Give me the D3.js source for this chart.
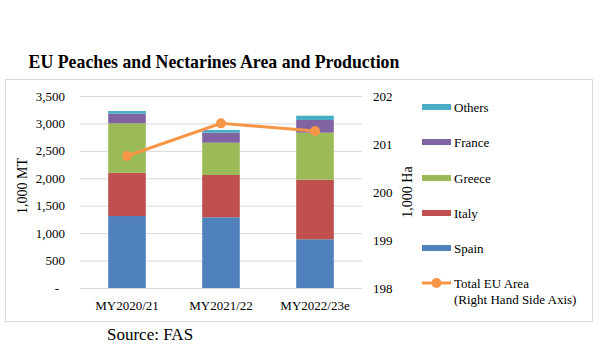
<!DOCTYPE html>
<html><head><meta charset="utf-8">
<script src="https://cdn.jsdelivr.net/npm/d3@7"></script>
<style>body{margin:0;background:#fff}svg{display:block}</style>
</head><body>
<svg id="c" width="600" height="357"></svg>
<script>
const years = ["MY2020/21", "MY2021/22", "MY2022/23e"];
const seriesNames = ["Spain", "Italy", "Greece", "France", "Others"];
const spain = [1312, 1289, 888];
const italy = [790, 771, 1086];
const greece = [900, 589, 857];
const france = [175, 182, 232];
const others = [50, 49, 78];
const totalArea = [200.75, 201.43, 201.27];
const leftTicks = [0, 500, 1000, 1500, 2000, 2500, 3000, 3500];
const rightTicks = [198, 199, 200, 201, 202];
const colors = ["#4F81BD", "#C0504D", "#9BBB59", "#8064A2", "#4BACC6"];
const lineColor = "#F79646";

const svg = d3.select("#c");
const font = "'Liberation Serif','Times New Roman',serif";
const L = 80, R = 362, T = 96, B = 288;

svg.append("rect").attr("x", 5.5).attr("y", 79.5).attr("width", 587).attr("height", 242)
  .attr("fill", "none").attr("stroke", "#d9d9d9");

svg.append("text").attr("x", 214).attr("y", 68).attr("text-anchor", "middle")
  .attr("font-family", font).attr("font-weight", "bold").attr("font-size", 17.8)
  .text("EU Peaches and Nectarines Area and Production");

const x = d3.scaleBand().domain(years).range([L, R]).paddingInner(0.6).paddingOuter(0.3);
const y = d3.scaleLinear().domain([0, 3500]).range([B, T]);
const y2 = d3.scaleLinear().domain([198, 202]).range([B, T]);

// gridlines
svg.append("g").selectAll("line").data(leftTicks).join("line")
  .attr("x1", L).attr("x2", R).attr("y1", d => y(d) + 0.5).attr("y2", d => y(d) + 0.5)
  .attr("stroke", "#d9d9d9").attr("stroke-width", 1);

const fmt = d => d === 0 ? "-" : d3.format(",")(d);
svg.append("g").selectAll("text").data(leftTicks).join("text")
  .attr("x", d => d === 0 ? 59 : 65).attr("y", d => y(d) + 4.5).attr("text-anchor", "end")
  .attr("font-family", font).attr("font-size", 13).text(fmt);

svg.append("g").selectAll("text").data(rightTicks).join("text")
  .attr("x", 373).attr("y", d => y2(d) + 4.5).attr("text-anchor", "start")
  .attr("font-family", font).attr("font-size", 13).text(d => d);

svg.append("text").attr("transform", "translate(27,186) rotate(-90)").attr("text-anchor", "middle")
  .attr("font-family", font).attr("font-size", 14).text("1,000 MT");
svg.append("text").attr("transform", "translate(412,192) rotate(-90)").attr("text-anchor", "middle")
  .attr("font-family", font).attr("font-size", 14).text("1,000 Ha");

// stacked bars
const rows = years.map((yr, i) => ({year: yr, Spain: spain[i], Italy: italy[i], Greece: greece[i], France: france[i], Others: others[i]}));
const stack = d3.stack().keys(seriesNames)(rows);
svg.append("g").selectAll("g").data(stack).join("g").attr("fill", (d, i) => colors[i])
  .selectAll("rect").data(d => d).join("rect")
  .attr("x", d => x(d.data.year)).attr("width", x.bandwidth())
  .attr("y", d => y(d[1])).attr("height", d => y(d[0]) - y(d[1]));

// x labels
svg.append("g").selectAll("text").data(years).join("text")
  .attr("x", d => x(d) + x.bandwidth() / 2).attr("y", 310).attr("text-anchor", "middle")
  .attr("font-family", font).attr("font-size", 13).text(d => d);

// line
const line = d3.line().x((d, i) => x(years[i]) + x.bandwidth() / 2).y(d => y2(d));
svg.append("path").datum(totalArea).attr("d", line).attr("fill", "none")
  .attr("stroke", lineColor).attr("stroke-width", 3);
svg.append("g").selectAll("circle").data(totalArea).join("circle")
  .attr("cx", (d, i) => x(years[i]) + x.bandwidth() / 2).attr("cy", d => y2(d)).attr("r", 5)
  .attr("fill", lineColor);

// legend
const legendItems = ["Others", "France", "Greece", "Italy", "Spain"];
const legY = [107, 142, 178, 213, 248];
const lg = svg.append("g");
legendItems.forEach((n, i) => {
  lg.append("rect").attr("x", 422).attr("y", legY[i] - 3).attr("width", 29).attr("height", 6)
    .attr("fill", colors[seriesNames.indexOf(n)]);
  lg.append("text").attr("x", 454).attr("y", legY[i] + 4.5).attr("font-family", font)
    .attr("font-size", 13).text(n);
});
lg.append("line").attr("x1", 422).attr("x2", 451).attr("y1", 283).attr("y2", 283)
  .attr("stroke", lineColor).attr("stroke-width", 3);
lg.append("circle").attr("cx", 436.5).attr("cy", 283).attr("r", 5).attr("fill", lineColor);
lg.append("text").attr("x", 454).attr("y", 287.5).attr("font-family", font).attr("font-size", 13).text("Total EU Area");
lg.append("text").attr("x", 454).attr("y", 304).attr("font-family", font).attr("font-size", 13).text("(Right Hand Side Axis)");

svg.append("text").attr("x", 107).attr("y", 340).attr("font-family", font).attr("font-size", 17)
  .text("Source: FAS");
</script>
</body></html>
